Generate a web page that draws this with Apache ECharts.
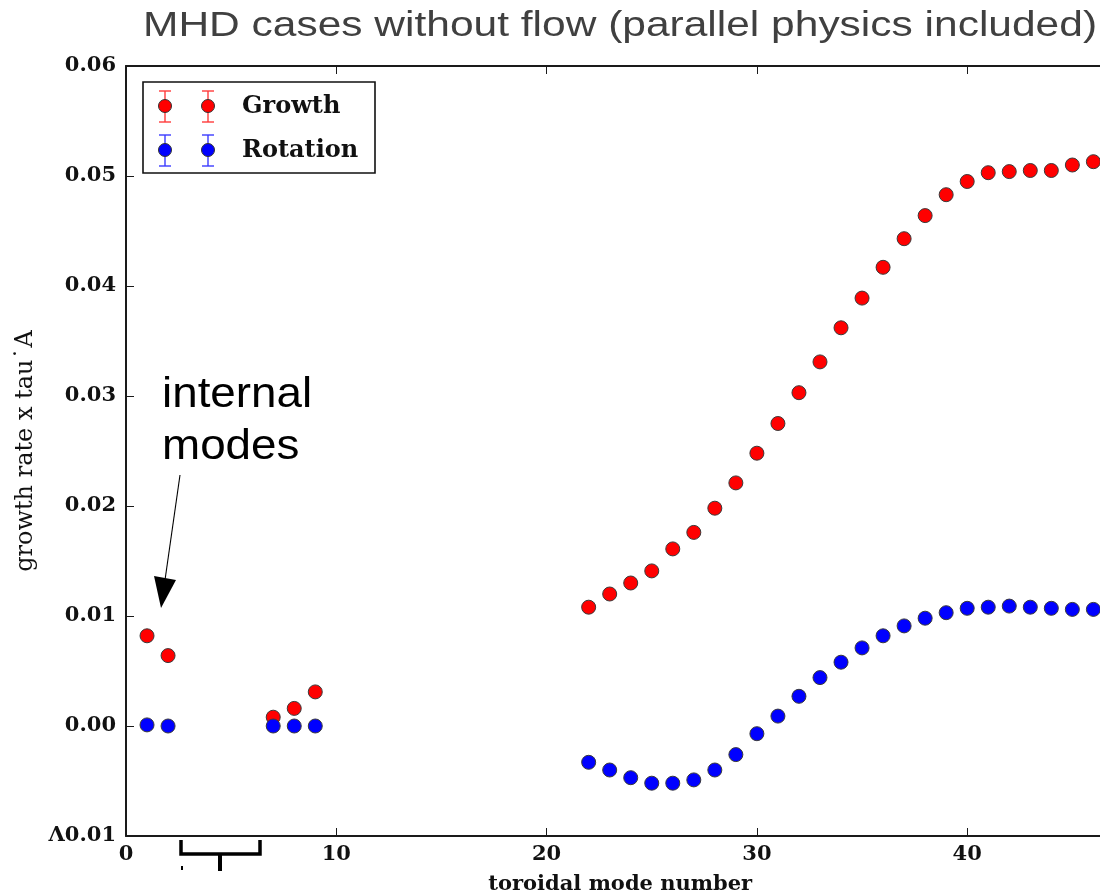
<!DOCTYPE html>
<html>
<head>
<meta charset="utf-8">
<title>MHD cases without flow</title>
<script src="https://cdn.jsdelivr.net/npm/echarts@6/dist/echarts.min.js"></script>
<style>
  html, body { margin: 0; padding: 0; background: #ffffff; }
  #chart { width: 1100px; height: 896px; }
</style>
</head>
<body>
<div id="chart"></div>
<script>
// Toroidal mode numbers that were computed
const modeNumbers = [1, 2, 7, 8, 9, 22, 23, 24, 25, 26, 27, 28, 29, 30, 31, 32, 33, 34,
  35, 36, 37, 38, 39, 40, 41, 42, 43, 44, 45, 46];

// Growth rate x tau_A for each mode
const growthValues = [0.0082, 0.0064, 0.0008, 0.0016, 0.0031, 0.0108, 0.0120, 0.0130,
  0.0141, 0.0161, 0.0176, 0.0198, 0.0221, 0.0248, 0.0275, 0.0303, 0.0331, 0.0362,
  0.0389, 0.0417, 0.0443, 0.0464, 0.0483, 0.0495, 0.0503, 0.0504, 0.0505, 0.0505,
  0.0510, 0.0513];

// Rotation frequency x tau_A for each mode
const rotationValues = [0.0001, 0.0000, 0.0000, 0.0000, 0.0000, -0.0033, -0.0040, -0.0047,
  -0.0052, -0.0052, -0.0049, -0.0040, -0.0026, -0.0007, 0.0009, 0.0027, 0.0044, 0.0058,
  0.0071, 0.0082, 0.0091, 0.0098, 0.0103, 0.0107, 0.0108, 0.0109, 0.0108, 0.0107,
  0.0106, 0.0106];

const xTicks = [0, 10, 20, 30, 40];
const yTicks = [-0.01, 0.00, 0.01, 0.02, 0.03, 0.04, 0.05, 0.06];

const seriesNames = ['Growth', 'Rotation'];
const seriesColors = ['#ff0000', '#0000ff'];
const errorBarColors = ['#ff3b3b', '#3b3bff'];

const titleText = 'MHD cases without flow (parallel physics included)';
const noteLines = ['internal', 'modes'];

const serif = '"DejaVu Serif", serif';
const axisColor = '#1a1a1a';

const chart = echarts.init(document.getElementById('chart'), null, { renderer: 'canvas' });

function pairs(xs, ys) {
  return xs.map((x, i) => [x, ys[i]]);
}

function tickLabel(v) {
  const r = Math.round(v * 100) / 100;
  return r < 0 ? '\u039B' + Math.abs(r).toFixed(2) : r.toFixed(2);
}

// Legend: two markers with error bars per entry, then the name
function legendElements() {
  const els = [{
    type: 'rect', z: 50,
    shape: { x: 143, y: 82, width: 232, height: 91 },
    style: { fill: '#ffffff', stroke: '#111111', lineWidth: 1.6 }
  }];
  const rows = [106, 150];
  const cols = [165, 208];
  rows.forEach((cy, k) => {
    cols.forEach(cx => {
      els.push({ type: 'line', z: 51, shape: { x1: cx, y1: cy - 15, x2: cx, y2: cy + 16 },
        style: { stroke: errorBarColors[k], lineWidth: 1.4 } });
      els.push({ type: 'line', z: 51, shape: { x1: cx - 6, y1: cy - 15, x2: cx + 6, y2: cy - 15 },
        style: { stroke: errorBarColors[k], lineWidth: 1.4 } });
      els.push({ type: 'line', z: 51, shape: { x1: cx - 6, y1: cy + 16, x2: cx + 6, y2: cy + 16 },
        style: { stroke: errorBarColors[k], lineWidth: 1.4 } });
      els.push({ type: 'circle', z: 52, shape: { cx: cx, cy: cy, r: 6.5 },
        style: { fill: seriesColors[k], stroke: '#333333', lineWidth: 1 } });
    });
    els.push({ type: 'text', z: 52, x: 242, y: cy + 1,
      style: { text: seriesNames[k], fontFamily: serif, fontWeight: 'bold', fontSize: 24,
        fill: '#111111', align: 'left', verticalAlign: 'middle' } });
  });
  return els;
}

const graphicElements = [
  // heading
  { type: 'text', x: 143, y: 26, scaleX: 1.214, z: 60,
    style: { text: titleText, fontFamily: '"Liberation Sans", Arial, sans-serif', fontSize: 35,
      fill: '#404040', align: 'left', verticalAlign: 'middle' } },
  // annotation text
  { type: 'text', x: 162, y: 395, scaleX: 1.09, z: 60,
    style: { text: noteLines[0], fontFamily: '"Liberation Sans", Arial, sans-serif', fontSize: 42,
      fill: '#000000', align: 'left', verticalAlign: 'middle' } },
  { type: 'text', x: 162, y: 447, scaleX: 1.09, z: 60,
    style: { text: noteLines[1], fontFamily: '"Liberation Sans", Arial, sans-serif', fontSize: 42,
      fill: '#000000', align: 'left', verticalAlign: 'middle' } },
  // arrow pointing at the low-n points
  { type: 'line', z: 60, shape: { x1: 180, y1: 475, x2: 165, y2: 580 },
    style: { stroke: '#000000', lineWidth: 1.1 } },
  { type: 'polygon', z: 60, shape: { points: [[154, 576], [176, 580], [161, 608]] },
    style: { fill: '#000000' } },
  // bracket under the axis
  { type: 'polyline', z: 60, shape: { points: [[181, 840], [181, 854], [260, 854], [260, 840]] },
    style: { stroke: '#000000', lineWidth: 3.5, fill: null } },
  { type: 'line', z: 60, shape: { x1: 220, y1: 854, x2: 220, y2: 871 },
    style: { stroke: '#000000', lineWidth: 4 } },
  { type: 'rect', z: 60, shape: { x: 181, y: 866, width: 2, height: 4 },
    style: { fill: '#000000' } }
].concat(legendElements());

const option = {
  backgroundColor: '#ffffff',
  animation: false,
  grid: {
    left: 126, top: 66, width: 47 * 21.03, height: 770,
    containLabel: false, outerBoundsMode: 'none'
  },
  xAxis: [{
    type: 'value', position: 'bottom', min: 0, max: 47, interval: 10,
    name: 'toroidal mode number', nameLocation: 'middle', nameGap: 38,
    nameTextStyle: { fontFamily: serif, fontWeight: 'bold', fontSize: 21, color: '#111111' },
    axisLine: { show: true, onZero: false, lineStyle: { color: axisColor, width: 2 } },
    axisTick: { show: true, inside: true, length: 8, lineStyle: { color: axisColor, width: 1 },
      customValues: xTicks },
    axisLabel: { show: true, margin: 8, fontFamily: serif, fontWeight: 'bold', fontSize: 21,
      color: '#111111', customValues: xTicks, formatter: v => String(Math.round(v)) },
    splitLine: { show: false }
  }, {
    type: 'value', position: 'top', min: 0, max: 47, interval: 10,
    axisLine: { show: true, onZero: false, lineStyle: { color: axisColor, width: 2 } },
    axisTick: { show: true, inside: true, length: 8, lineStyle: { color: axisColor, width: 1 },
      customValues: xTicks },
    axisLabel: { show: false },
    splitLine: { show: false }
  }],
  yAxis: {
    type: 'value', min: -0.01, max: 0.06, interval: 0.01,
    name: 'growth rate x tau\u02D9A', nameLocation: 'middle', nameGap: 86,
    nameTextStyle: { fontFamily: serif, fontSize: 24, color: '#111111' },
    axisLine: { show: true, onZero: false, lineStyle: { color: axisColor, width: 2 } },
    axisTick: { show: true, inside: true, length: 8, lineStyle: { color: axisColor, width: 1 },
      customValues: yTicks },
    axisLabel: { show: true, margin: 10, fontFamily: serif, fontWeight: 'bold', fontSize: 21,
      color: '#111111', customValues: yTicks, formatter: tickLabel },
    splitLine: { show: false }
  },
  series: [{
    name: seriesNames[0], type: 'scatter', xAxisIndex: 0,
    data: pairs(modeNumbers, growthValues),
    symbol: 'circle', symbolSize: 14,
    itemStyle: { color: seriesColors[0], borderColor: '#3a3a3a', borderWidth: 1, opacity: 1 },
    emphasis: { disabled: true }
  }, {
    name: seriesNames[1], type: 'scatter', xAxisIndex: 0,
    data: pairs(modeNumbers, rotationValues),
    symbol: 'circle', symbolSize: 14,
    itemStyle: { color: seriesColors[1], borderColor: '#3a3a3a', borderWidth: 1, opacity: 1 },
    emphasis: { disabled: true }
  }],
  graphic: { elements: graphicElements }
};

chart.setOption(option);
</script>
</body>
</html>
